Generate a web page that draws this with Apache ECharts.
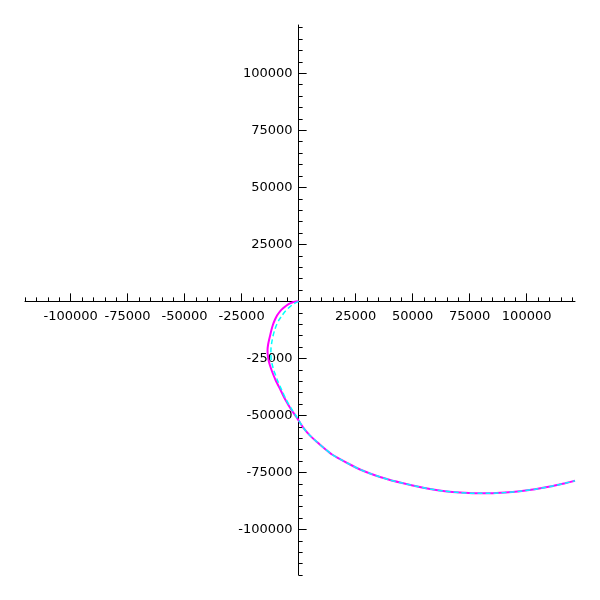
<!DOCTYPE html>
<html>
<head>
<meta charset="utf-8">
<script src="https://cdn.jsdelivr.net/npm/echarts@6/dist/echarts.min.js"></script>
<style>
html,body{margin:0;padding:0;background:#fff;}
#chart{width:600px;height:600px;}
</style>
</head>
<body>
<div id="chart"></div>
<script>
// Curve values in thousands
const magentaHeadX = [0, -1.80, -3.55, -5.31, -6.84, -8.16, -9.34, -10.35, -11.23, -11.88, -12.45, -12.98, -13.42, -13.64, -13.55, -13.20, -12.63, -11.88, -11.05, -10.13, -7.94, -5.74, -3.42, -0.92];
const magentaHeadY = [0, -0.14, -0.80, -1.81, -3.04, -4.35, -5.98, -7.95, -10.14, -12.34, -14.75, -16.94, -19.13, -21.33, -23.52, -25.71, -27.90, -30.10, -32.29, -34.48, -38.87, -43.26, -47.20, -50.80];
const cyanHeadX = [0, -1.36, -2.89, -4.43, -5.96, -7.28, -8.60, -9.69, -10.57, -11.23, -11.75, -12.10, -12.19, -12.02, -11.53, -10.96, -10.13, -9.34, -7.41, -5.39, -3.11, -0.70];
const cyanHeadY = [0, -0.63, -1.59, -2.91, -4.44, -6.20, -8.17, -10.36, -12.77, -15.19, -17.82, -20.45, -23.08, -25.71, -27.90, -30.10, -32.29, -34.48, -38.87, -43.26, -47.20, -50.93];
const tailX = [1.93, 5.00, 8.07, 11.58, 14.65, 18.16, 22.54, 26.93, 31.31, 35.70, 40.08, 44.47, 51.05, 57.62, 64.20, 70.78, 77.36, 83.94, 90.51, 97.09, 103.67, 110.25, 116.83, 121.2];
const tailY = [-55.27, -58.86, -61.67, -64.74, -67.15, -69.21, -71.54, -73.73, -75.49, -77.02, -78.34, -79.43, -80.97, -82.28, -83.25, -83.86, -84.17, -84.17, -83.86, -83.25, -82.37, -81.23, -79.74, -78.69];
const majorTicks = [-100000, -75000, -50000, -25000, 25000, 50000, 75000, 100000];
const minorTicks = [];
for (let v = -120000; v <= 120000; v += 5000) minorTicks.push(v);

const axisMin = -120000, axisMax = 121200;
const gridLeft = 25, gridTop = 25, gridSize = 550;
const zeroFromLow = (0 - axisMin) / (axisMax - axisMin) * gridSize;   // distance of 0 from left / bottom
const font = 'DejaVu Sans';

function makeAxes(dim) {
  const isX = dim === 'x';
  const base = {
    type: 'value', min: axisMin, max: axisMax,
    position: isX ? 'bottom' : 'left',
    splitLine: {show: false}
  };
  return [
    Object.assign({}, base, {
      axisLine: {show: true, onZero: true, lineStyle: {color: '#000', width: 1}},
      axisTick: {show: true, inside: true, length: 4, customValues: minorTicks, lineStyle: {color: '#000', width: 1}},
      axisLabel: {show: false}
    }),
    Object.assign({}, base, {
      offset: -zeroFromLow,
      axisLine: {show: false, onZero: false},
      axisTick: {show: true, inside: true, length: 8, customValues: majorTicks, lineStyle: {color: '#000', width: 1}},
      axisLabel: {show: true, customValues: majorTicks, color: '#000', fontFamily: font, fontSize: 13,
                  margin: isX ? 9 : 6, formatter: v => String(v)}
    })
  ];
}

const toPairs = (xs, ys) => xs.map((x, i) => [x * 1000, ys[i] * 1000]);

const chart = echarts.init(document.getElementById('chart'), null, {renderer: 'canvas'});
chart.setOption({
  animation: false,
  backgroundColor: '#fff',
  grid: {left: gridLeft, top: gridTop, width: gridSize, height: gridSize, containLabel: false, outerBoundsMode: 'none'},
  xAxis: makeAxes('x'),
  yAxis: makeAxes('y'),
  series: [
    {type: 'line', xAxisIndex: 0, yAxisIndex: 0, smooth: 0.25, showSymbol: false, symbol: 'none',
     data: toPairs(magentaHeadX.concat(tailX), magentaHeadY.concat(tailY)),
     lineStyle: {color: '#ff00ff', width: 2}},
    {type: 'line', xAxisIndex: 0, yAxisIndex: 0, smooth: 0.25, showSymbol: false, symbol: 'none',
     data: toPairs(cyanHeadX.concat(tailX), cyanHeadY.concat(tailY)),
     lineStyle: {color: '#00ffff', width: 1.5, type: [5, 3]}}
  ]
});
</script>
</body>
</html>
